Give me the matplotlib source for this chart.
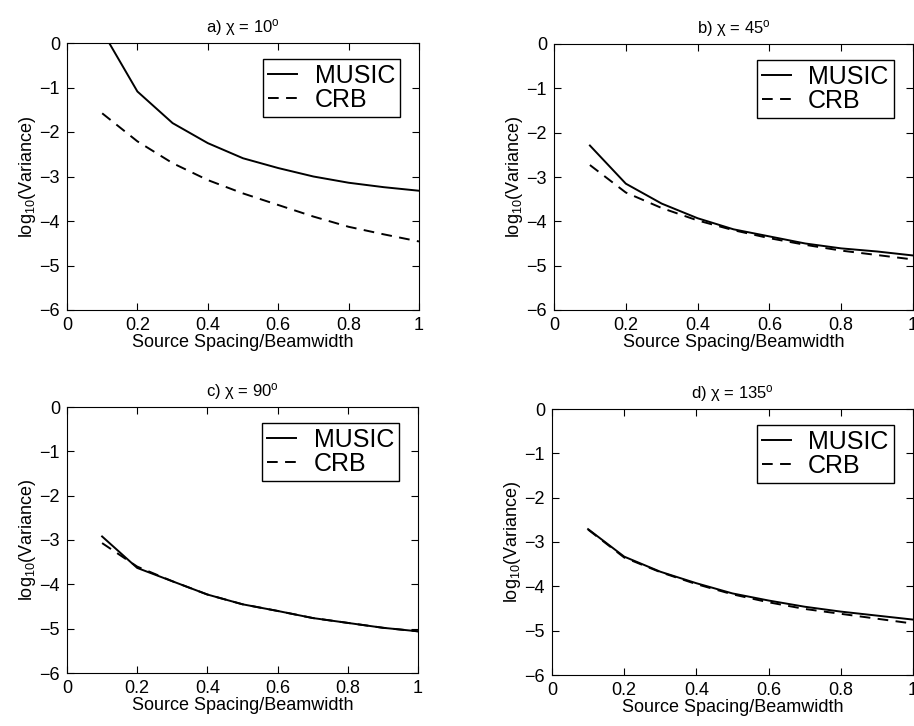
import numpy as np
import matplotlib
matplotlib.use('Agg')
from matplotlib import pyplot as plt

plt.rcParams['font.family'] = ['Liberation Sans', 'DejaVu Sans']
plt.rcParams['mathtext.fontset'] = 'custom'
plt.rcParams['mathtext.rm'] = 'Liberation Sans'
plt.rcParams['mathtext.it'] = 'Liberation Sans:italic'
plt.rcParams['axes.unicode_minus'] = True

#---- data

spacing = [0.1, 0.2, 0.3, 0.4, 0.5, 0.6, 0.7, 0.8, 0.9, 1.0]

music_a = [0.27, -1.09, -1.80, -2.25, -2.59, -2.81, -3.00, -3.14, -3.24, -3.32]
crb_a   = [-1.58, -2.21, -2.70, -3.08, -3.38, -3.64, -3.90, -4.13, -4.30, -4.46]

music_b = [-2.29, -3.15, -3.60, -3.93, -4.18, -4.34, -4.50, -4.61, -4.68, -4.77]
crb_b   = [-2.73, -3.35, -3.70, -3.98, -4.20, -4.38, -4.53, -4.66, -4.76, -4.86]

music_c = [-2.92, -3.63, -3.93, -4.23, -4.45, -4.60, -4.76, -4.87, -4.98, -5.06]
crb_c   = [-3.07, -3.60, -3.93, -4.23, -4.45, -4.60, -4.76, -4.87, -4.98, -5.06]

music_d = [-2.71, -3.33, -3.67, -3.93, -4.16, -4.32, -4.46, -4.57, -4.66, -4.75]
crb_d   = [-2.72, -3.35, -3.68, -3.95, -4.18, -4.36, -4.51, -4.62, -4.73, -4.84]

titles = [r'a) χ = 10$^{\rm o}$', r'b) χ = 45$^{\rm o}$',
          r'c) χ = 90$^{\rm o}$', r'd) χ = 135$^{\rm o}$']

xticks = [0, 0.2, 0.4, 0.6, 0.8, 1]
xticklabels = ['0', '0.2', '0.4', '0.6', '0.8', '1']
yticks = [0, -1, -2, -3, -4, -5, -6]

#---- function to draw one panel

def plot_panel(ax, music, crb, title):
    ax.plot(spacing, music, 'k-', lw=1.4, label='MUSIC')
    ax.plot(spacing, crb, 'k', lw=1.4, ls=(0, (5.5, 3.8)), label='CRB')
    ax.set_xlim(0, 1)
    ax.set_ylim(-6, 0)
    ax.set_xticks(xticks)
    ax.set_xticklabels(xticklabels)
    ax.set_yticks(yticks)
    ax.tick_params(direction='in', top=True, right=True, length=5,
                   labelsize=13, pad=5)
    ax.set_title(title, fontsize=12, pad=8)
    ax.set_xlabel('Source Spacing/Beamwidth', fontsize=13, labelpad=0)
    ax.set_ylabel(r'log$_{10}$(Variance)', fontsize=13, labelpad=1)
    leg = ax.legend(loc='upper right', bbox_to_anchor=(0.946, 0.94),
                    fontsize=18, frameon=True, fancybox=False,
                    edgecolor='k', framealpha=1, handlelength=1.15,
                    handletextpad=0.7, labelspacing=0.0, borderpad=0.2,
                    borderaxespad=0)
    leg.get_frame().set_linewidth(1.0)
    return ax

#---- figure

fig = plt.figure(figsize=(9.14, 7.26), dpi=100)

W, H = 914.0, 726.0
boxes = [(67, 43, 419, 310), (554, 44, 913, 310),
         (67, 407, 418, 673), (552, 409, 913, 675)]
data = [(music_a, crb_a), (music_b, crb_b), (music_c, crb_c), (music_d, crb_d)]

for (x0, y0, x1, y1), (m, c), t in zip(boxes, data, titles):
    ax = fig.add_axes([x0 / W, 1 - y1 / H, (x1 - x0) / W, (y1 - y0) / H])
    plot_panel(ax, m, c, t)

plt.savefig('out.png', dpi=100)
